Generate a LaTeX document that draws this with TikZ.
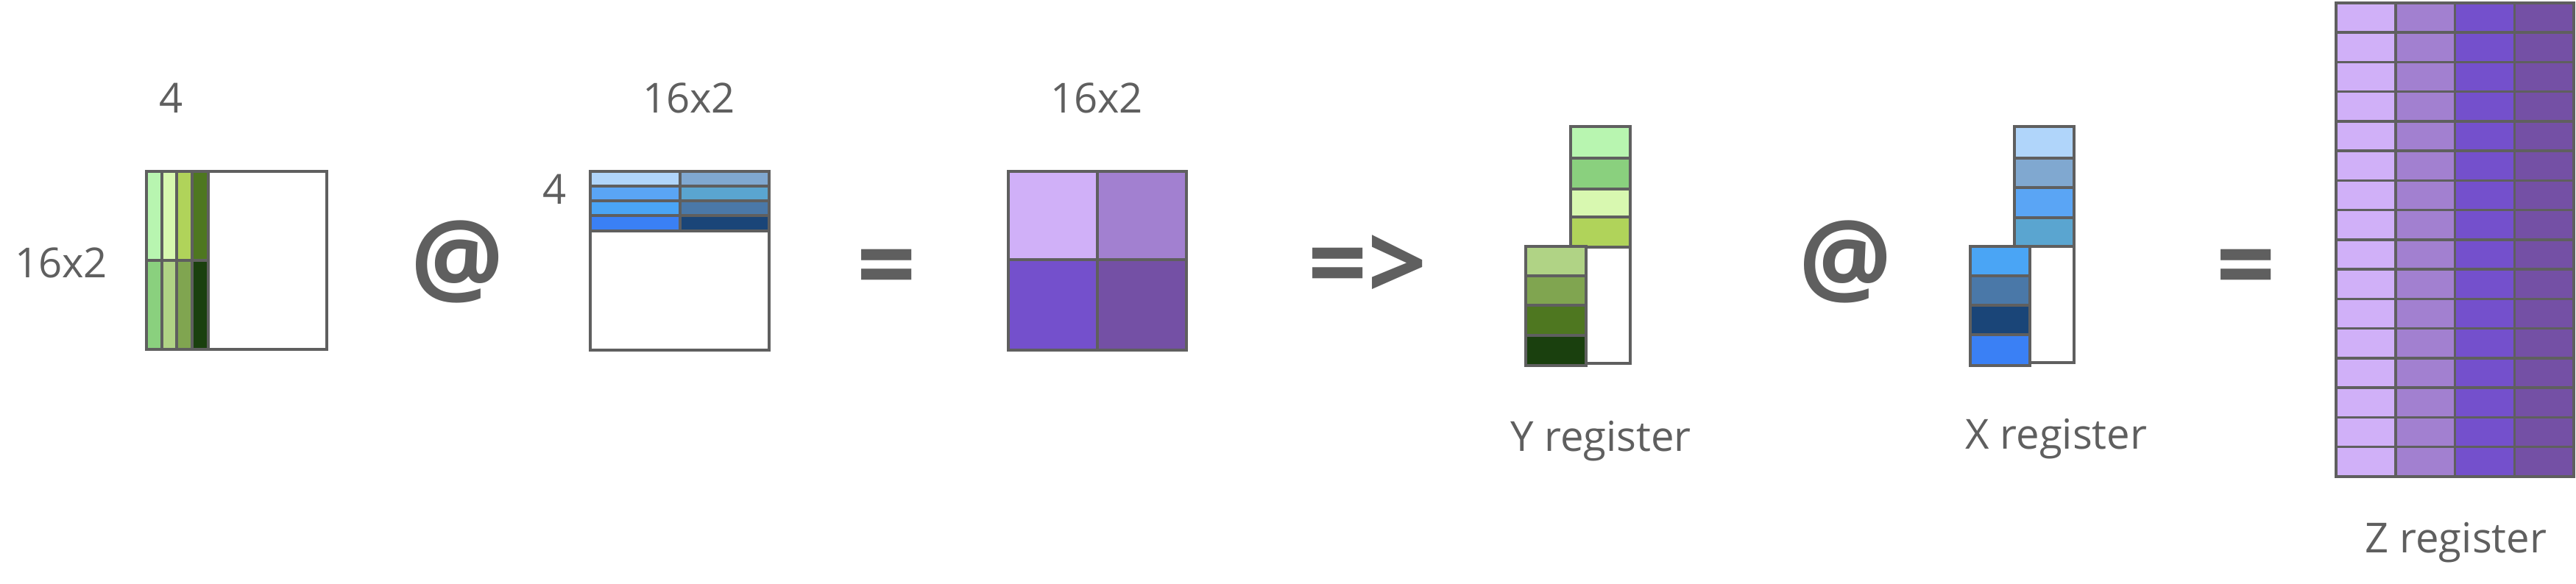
\documentclass[tikz,border=0pt]{standalone}
\usepackage{fontspec}
\setmainfont{Open Sans}

\definecolor{pen}{HTML}{5F5F5F}
% greens
\definecolor{gmint}{HTML}{B8F5B0}
\definecolor{gpale}{HTML}{D8F8B0}
\definecolor{glime}{HTML}{B0D35A}
\definecolor{gmoss}{HTML}{4E7720}
\definecolor{ggrass}{HTML}{8AD07E}
\definecolor{gsage}{HTML}{B0D385}
\definecolor{golive}{HTML}{80A550}
\definecolor{gforest}{HTML}{1A400E}
% blues
\definecolor{bsky}{HTML}{B0D5FA}
\definecolor{bmid}{HTML}{5AA5F5}
\definecolor{bazure}{HTML}{4AA5F5}
\definecolor{broyal}{HTML}{3A80F5}
\definecolor{bsteel}{HTML}{80A8D0}
\definecolor{bteal}{HTML}{5AA5D0}
\definecolor{bslate}{HTML}{4A78A8}
\definecolor{bnavy}{HTML}{1A4578}
% purples
\definecolor{plilac}{HTML}{D0B0F8}
\definecolor{plav}{HTML}{A280D0}
\definecolor{pviolet}{HTML}{7450CC}
\definecolor{pplum}{HTML}{7450A5}

\tikzset{
  cell/.style={draw=pen, line width=1pt},
  lbl/.style={text=pen, font=\fontsize{16}{19}\selectfont},
  opsym/.style={text=pen, font=\fontsize{40}{44}\selectfont\bfseries}
}

\begin{document}
\begin{tikzpicture}

\path[use as bounding box] (0,0) rectangle (35,7.94);

% Matrix A
\draw[cell, fill=white] (1.99,3.19) rectangle (4.44,5.61);
\filldraw[cell, fill=gmint] (1.99,4.40) rectangle (2.20,5.61);
\filldraw[cell, fill=gpale] (2.20,4.40) rectangle (2.40,5.61);
\filldraw[cell, fill=glime] (2.40,4.40) rectangle (2.61,5.61);
\filldraw[cell, fill=gmoss] (2.61,4.40) rectangle (2.83,5.61);
\filldraw[cell, fill=ggrass] (1.99,3.19) rectangle (2.20,4.40);
\filldraw[cell, fill=gsage] (2.20,3.19) rectangle (2.40,4.40);
\filldraw[cell, fill=golive] (2.40,3.19) rectangle (2.61,4.40);
\filldraw[cell, fill=gforest] (2.61,3.19) rectangle (2.83,4.40);
\node[lbl] (acols) at (2.33,6.61) {4};
\node[lbl] (arows) at (0.83,4.37) {16x2};

% @
\node[opsym] (at1) at (6.22,4.38) {@};

% Matrix B
\draw[cell, fill=white] (8.02,3.18) rectangle (10.45,5.61);
\filldraw[cell, fill=bsky] (8.02,5.41) rectangle (9.24,5.61);
\filldraw[cell, fill=bmid] (8.02,5.21) rectangle (9.24,5.41);
\filldraw[cell, fill=bazure] (8.02,5.01) rectangle (9.24,5.21);
\filldraw[cell, fill=broyal] (8.02,4.80) rectangle (9.24,5.01);
\filldraw[cell, fill=bsteel] (9.24,5.41) rectangle (10.45,5.61);
\filldraw[cell, fill=bteal] (9.24,5.21) rectangle (10.45,5.41);
\filldraw[cell, fill=bslate] (9.24,5.01) rectangle (10.45,5.21);
\filldraw[cell, fill=bnavy] (9.24,4.80) rectangle (10.45,5.01);
\node[lbl] (bcols) at (9.36,6.61) {16x2};
\node[lbl] (brows) at (7.54,5.37) {4};

% =
\node[opsym] (eq1) at (12.05,4.20) {=};

% Matrix C
\filldraw[cell, fill=plilac] (13.70,4.41) rectangle (14.91,5.61);
\filldraw[cell, fill=plav] (14.91,4.41) rectangle (16.12,5.61);
\filldraw[cell, fill=pviolet] (13.70,3.18) rectangle (14.91,4.41);
\filldraw[cell, fill=pplum] (14.91,3.18) rectangle (16.12,4.41);
\node[lbl] (ccols) at (14.90,6.61) {16x2};

% =>
\node[opsym] (impl) at (18.58,4.30) {=>};

% Y register
\filldraw[cell, fill=gmint] (21.34,5.79) rectangle (22.15,6.22);
\filldraw[cell, fill=ggrass] (21.34,5.37) rectangle (22.15,5.79);
\filldraw[cell, fill=gpale] (21.34,4.99) rectangle (22.15,5.37);
\filldraw[cell, fill=glime] (21.34,4.58) rectangle (22.15,4.99);
\draw[cell, fill=white] (21.34,3.00) rectangle (22.15,4.58);
\filldraw[cell, fill=gsage] (20.73,4.19) rectangle (21.55,4.59);
\filldraw[cell, fill=golive] (20.73,3.79) rectangle (21.55,4.19);
\filldraw[cell, fill=gmoss] (20.73,3.38) rectangle (21.55,3.79);
\filldraw[cell, fill=gforest] (20.73,2.97) rectangle (21.55,3.38);
\node[lbl] (yreg) at (21.75,1.94) {Y register};

% @
\node[opsym] (at2) at (25.08,4.38) {@};

% X register
\filldraw[cell, fill=bsky] (27.37,5.79) rectangle (28.18,6.22);
\filldraw[cell, fill=bsteel] (27.37,5.39) rectangle (28.18,5.79);
\filldraw[cell, fill=bmid] (27.37,4.98) rectangle (28.18,5.39);
\filldraw[cell, fill=bteal] (27.37,4.59) rectangle (28.18,4.98);
\draw[cell, fill=white] (27.37,3.01) rectangle (28.18,4.59);
\filldraw[cell, fill=bazure] (26.77,4.19) rectangle (27.58,4.59);
\filldraw[cell, fill=bslate] (26.77,3.79) rectangle (27.58,4.19);
\filldraw[cell, fill=bnavy] (26.77,3.39) rectangle (27.58,3.79);
\filldraw[cell, fill=broyal] (26.77,2.97) rectangle (27.58,3.39);
\node[lbl] (xreg) at (27.94,1.97) {X register};

% =
\node[opsym] (eq2) at (30.52,4.20) {=};

% Z register
\foreach \c/\col in {0/plilac,1/plav,2/pviolet,3/pplum}
  \foreach \r in {1,...,16}
    \filldraw[cell, fill=\col] ({31.74+\c*0.8075},{7.90-\r*0.4025}) rectangle ++(0.8075,0.4025);
\node[lbl] (zreg) at (33.37,0.56) {Z register};

\end{tikzpicture}
\end{document}
